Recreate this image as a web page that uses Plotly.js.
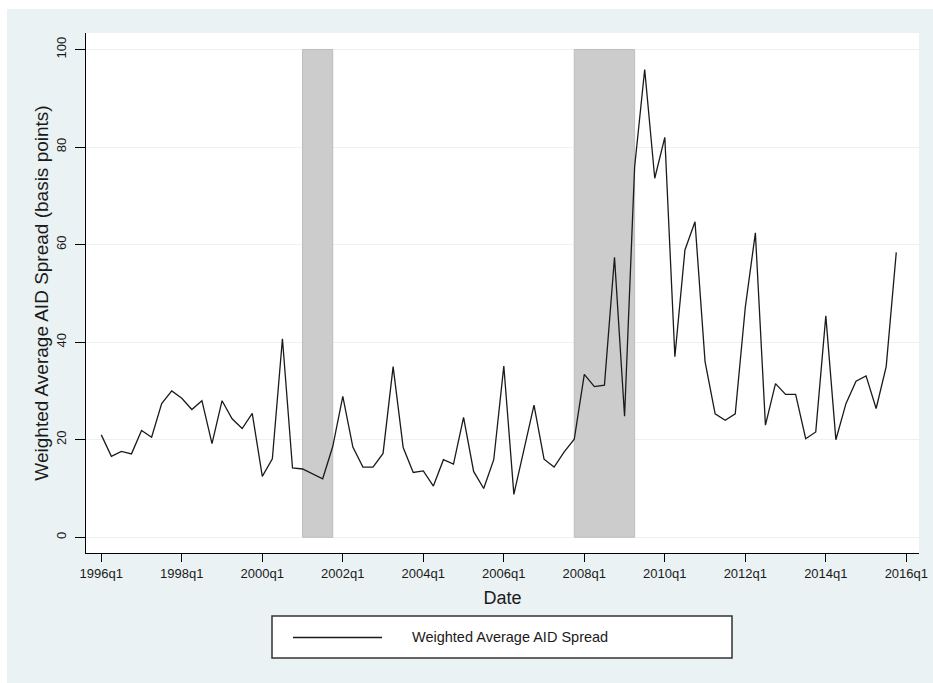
<!DOCTYPE html>
<html>
<head>
<meta charset="utf-8">
<script src="https://cdn.plot.ly/plotly-3.0.1.min.js"></script>
<style>
  html, body { margin: 0; padding: 0; background: #ffffff; }
  #chart { width: 933px; height: 683px; }
</style>
</head>
<body>
<div id="chart"></div>
<script>
// Weighted average AID spread, quarterly, 1996q1 - 2015q4 (basis points)
const startYear = 1996;
const spread = [
  21.0, 16.6, 17.6, 17.1,   // 1996
  21.9, 20.5, 27.4, 30.0,   // 1997
  28.5, 26.2, 28.0, 19.2,   // 1998
  28.0, 24.3, 22.3, 25.4,   // 1999
  12.5, 16.1, 40.7, 14.2,   // 2000
  14.0, 13.0, 12.0, 18.6,   // 2001
  28.9, 18.5, 14.4, 14.4,   // 2002
  17.2, 35.0, 18.4, 13.3,   // 2003
  13.6, 10.5, 15.9, 15.0,   // 2004
  24.6, 13.5, 10.0, 15.9,   // 2005
  35.1,  8.8, 17.9, 27.1,   // 2006
  16.0, 14.4, 17.5, 20.1,   // 2007
  33.4, 30.9, 31.2, 57.4,   // 2008
  24.8, 75.9, 95.9, 73.6,   // 2009
  82.0, 37.0, 58.9, 64.7,   // 2010
  36.0, 25.3, 24.0, 25.3,   // 2011
  47.2, 62.4, 23.0, 31.5,   // 2012
  29.3, 29.3, 20.2, 21.6,   // 2013
  45.4, 20.0, 27.4, 32.0,   // 2014
  33.1, 26.4, 35.0, 58.4    // 2015
];

// NBER recession periods (first and last quarter)
const recessions = [
  ['2001q1', '2001q4'],
  ['2007q4', '2009q2']
];

const xTickLabels = ['1996q1', '1998q1', '2000q1', '2002q1', '2004q1',
                     '2006q1', '2008q1', '2010q1', '2012q1', '2014q1', '2016q1'];
const yTickValues = [0, 20, 40, 60, 80, 100];

const seriesName = 'Weighted Average AID Spread';
const yTitle = 'Weighted Average AID Spread (basis points)';
const xTitle = 'Date';

// quarter label "YYYYqN" -> number of quarters since startYear q1
function quarterIndex(label) {
  const m = /^(\d{4})q(\d)$/.exec(label);
  return (parseInt(m[1], 10) - startYear) * 4 + (parseInt(m[2], 10) - 1);
}
const quarterX = spread.map((_, i) => i);
const quarterText = spread.map((_, i) =>
  (startYear + Math.floor(i / 4)) + 'q' + (i % 4 + 1));

// page geometry
const W = 933, H = 683;
const M = { l: 86, r: 14, t: 33, b: 130, pad: 0 };
const pw = W - M.l - M.r, ph = H - M.t - M.b;
const fx = px => (px - M.l) / pw;
const fy = py => (H - M.b - py) / ph;

const FONT = 'Arial, "Liberation Sans", Helvetica, sans-serif';
const INK = '#1a1a1a';
const BG = '#eaf2f3';

const shapes = [];
// white margin at the top and left edge of the graph region
shapes.push({ type: 'rect', xref: 'paper', yref: 'paper', layer: 'below',
  x0: fx(-2), x1: fx(W + 2), y0: fy(-2), y1: fy(9),
  fillcolor: '#ffffff', line: { width: 0 } });
shapes.push({ type: 'rect', xref: 'paper', yref: 'paper', layer: 'below',
  x0: fx(-2), x1: fx(7), y0: fy(-2), y1: fy(H + 2),
  fillcolor: '#ffffff', line: { width: 0 } });

// recession shading
recessions.forEach(([a, b]) => {
  shapes.push({ type: 'rect', xref: 'x', yref: 'y', layer: 'between',
    x0: quarterIndex(a), x1: quarterIndex(b), y0: 0, y1: 100,
    fillcolor: '#cccccc', line: { color: '#bdbdbd', width: 1 } });
});

// legend box
shapes.push({ type: 'rect', xref: 'paper', yref: 'paper',
  x0: fx(272), x1: fx(732), y0: fy(658), y1: fy(616),
  fillcolor: '#ffffff', line: { color: '#333333', width: 1.5 } });
shapes.push({ type: 'line', xref: 'paper', yref: 'paper',
  x0: fx(293), x1: fx(382), y0: fy(637.5), y1: fy(637.5),
  line: { color: INK, width: 1.4 } });

const annotations = [{
  xref: 'paper', yref: 'paper', x: fx(410), y: fy(637),
  xanchor: 'left', yanchor: 'middle', showarrow: false,
  text: seriesName, font: { family: FONT, size: 14.5, color: INK }
}];

const trace = {
  type: 'scatter', mode: 'lines',
  x: quarterX, y: spread, text: quarterText,
  name: seriesName,
  line: { color: INK, width: 1.3 },
  hovertemplate: '%{text}: %{y}<extra></extra>'
};

const layout = {
  width: W, height: H,
  margin: M,
  paper_bgcolor: BG,
  plot_bgcolor: '#ffffff',
  showlegend: false,
  font: { family: FONT, color: INK },
  xaxis: {
    range: [-1.52, 81.26],
    tickvals: xTickLabels.map(quarterIndex),
    ticktext: xTickLabels,
    ticks: 'outside', ticklen: 8, tickwidth: 1, tickcolor: '#000000',
    showline: true, linecolor: '#000000', linewidth: 1,
    showgrid: false, zeroline: false,
    tickfont: { family: FONT, size: 13, color: INK },
    title: { text: xTitle, font: { family: FONT, size: 18, color: INK }, standoff: 11 }
  },
  yaxis: {
    range: [-3.22, 103.38],
    tickvals: yTickValues,
    tickangle: -90,
    ticklabelstandoff: 4,
    ticks: 'outside', ticklen: 10, tickwidth: 1, tickcolor: '#000000',
    showline: true, linecolor: '#000000', linewidth: 1,
    showgrid: true, gridcolor: BG, gridwidth: 1, zeroline: false,
    tickfont: { family: FONT, size: 13, color: INK },
    title: { text: yTitle, font: { family: FONT, size: 19, color: INK }, standoff: 0 }
  },
  shapes: shapes,
  annotations: annotations
};

Plotly.newPlot('chart', [trace], layout, { displayModeBar: false, responsive: false });
</script>
</body>
</html>
